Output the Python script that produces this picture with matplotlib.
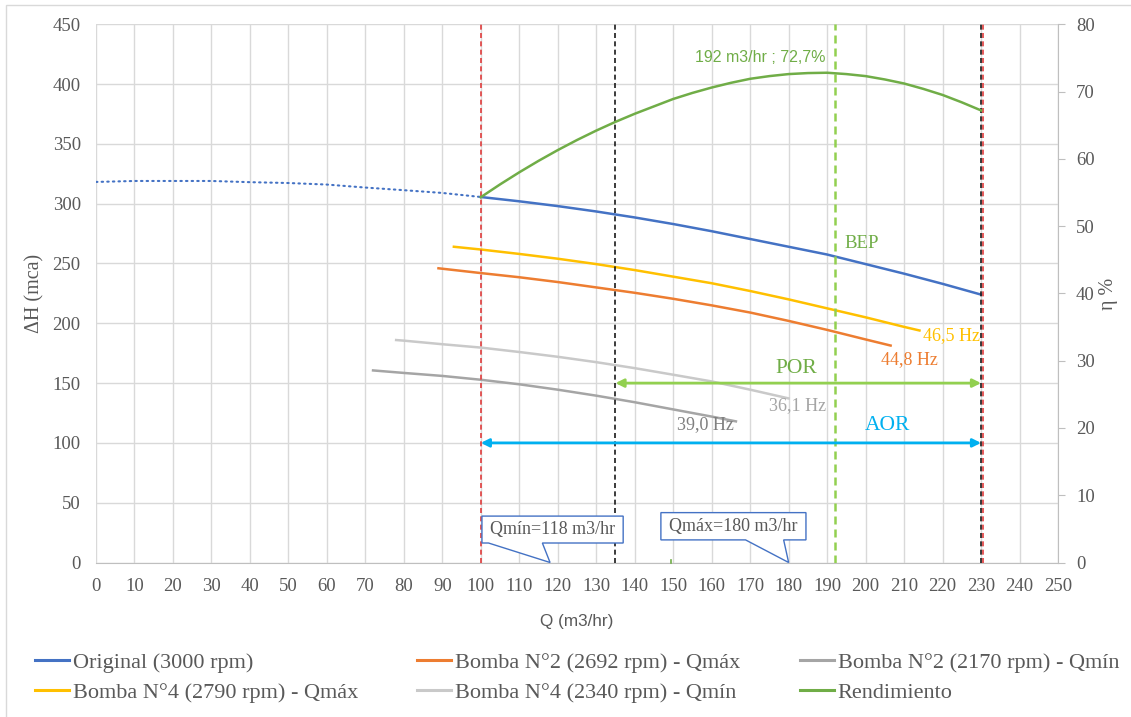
import matplotlib
matplotlib.use('Agg')
import matplotlib.pyplot as plt
from matplotlib.patches import Polygon, Rectangle

SERIF = ['Liberation Serif', 'DejaVu Serif']
NARROW = ['Liberation Sans Narrow', 'Liberation Sans', 'DejaVu Sans']
plt.rcParams['font.family'] = SERIF

# ---------------- data ----------------
q_orig_ext = [0, 10, 20, 30, 40, 50, 60, 70, 80, 90, 100]
h_orig_ext = [318.2, 319, 319, 319, 318, 317.3, 316, 313.5, 311.3, 309, 305.6]

q_orig = [100, 110, 120, 130, 140, 150, 160, 170, 180, 190, 200, 210, 220, 230]
h_orig = [305.6, 302, 298, 293.5, 288.5, 283, 277, 270.5, 264, 257.5, 249.5, 241.5, 233, 224]

q_b2_max = [89, 100, 110, 120, 130, 140, 150, 160, 170, 180, 190, 200, 206.5]
h_b2_max = [246, 242, 238.5, 234.5, 230, 225.5, 220.5, 215, 209, 202, 194.5, 186.5, 181.4]

q_b4_max = [93, 100, 110, 120, 130, 140, 150, 160, 170, 180, 190, 200, 210, 214]
h_b4_max = [264, 261.7, 258, 254, 249.5, 244.5, 239, 233.5, 227, 220, 212.5, 205, 197, 194]

q_b2_min = [72, 80, 90, 100, 110, 120, 130, 140, 150, 160, 166.3]
h_b2_min = [160.6, 158.5, 156, 152.8, 149, 144.5, 139.5, 134, 128, 122, 118]

q_b4_min = [78, 80, 90, 100, 110, 120, 130, 140, 150, 160, 170, 180]
h_b4_min = [186, 185.5, 182.5, 179.7, 176, 172, 167.5, 162.5, 157, 151.4, 144.5, 137.2]

q_eff = [100, 105, 110, 115, 120, 125, 130, 135, 140, 145, 150, 155, 160, 165, 170,
         175, 180, 185, 190, 195, 200, 205, 210, 215, 220, 225, 230]
eff = [54.3, 56.2, 58.0, 59.7, 61.3, 62.8, 64.2, 65.5, 66.7, 67.8, 68.9, 69.8, 70.6, 71.3, 71.9,
       72.3, 72.6, 72.75, 72.8, 72.6, 72.3, 71.8, 71.2, 70.4, 69.5, 68.4, 67.2]

labels = ['Original (3000 rpm)', 'Bomba N°2 (2692 rpm) - Qmáx', 'Bomba N°2 (2170 rpm) - Qmín',
          'Bomba N°4 (2790 rpm) - Qmáx', 'Bomba N°4 (2340 rpm) - Qmín', 'Rendimiento']

q_aor_min, q_aor_max = 100, 230
q_por_min, q_por_max = 135, 230
q_bep, eff_bep = 192, 72.7
q_min, q_max = 118, 180
h_por_arrow, h_aor_arrow = 150, 100

x_ticks = list(range(0, 251, 10))
y_ticks = list(range(0, 451, 50))
y2_ticks = list(range(0, 81, 10))

# ---------------- colours ----------------
C_BLUE = '#4472C4'
C_ORANGE = '#ED7D31'
C_YELLOW = '#FFC000'
C_GRAY_D = '#A5A5A5'
C_GRAY_L = '#C9C9C9'
C_GREEN = '#70AD47'
C_LIME = '#92D050'
C_CYAN = '#00B0F0'
C_RED = '#E03C3C'
C_TXT = '#595959'
C_GRID = '#D9D9D9'

W, H = 1131, 717
fig = plt.figure(figsize=(W / 100, H / 100), dpi=100)
fig.patches.append(Rectangle((6 / W, -0.01), 1.1, 1 - 5 / H + 0.01, transform=fig.transFigure,
                             fill=False, ec='#D9D9D9', lw=1))

x0p, x1p, y0p, y1p = 96, 1058, 562.5, 24.3
ax = fig.add_axes([x0p / W, 1 - y0p / H, (x1p - x0p) / W, (y0p - y1p) / H])
ax2 = ax.twinx()

ax.set_xlim(0, 250)
ax.set_ylim(0, 450)
ax2.set_ylim(0, 80)
ax.set_xticks(x_ticks)
ax.set_yticks(y_ticks)
ax2.set_yticks(y2_ticks)
ax.grid(True, color=C_GRID, lw=1)
ax.set_axisbelow(True)

for s in ['top', 'left', 'right']:
    ax.spines[s].set_visible(False)
ax.spines['bottom'].set_color('#BFBFBF')
for s in ['top', 'left', 'bottom']:
    ax2.spines[s].set_visible(False)
ax2.spines['right'].set_color('#BFBFBF')

ax.tick_params(axis='both', length=0, labelsize=13.5, labelcolor=C_TXT)
ax.tick_params(axis='x', pad=11)
ax.tick_params(axis='y', pad=11)
ax2.tick_params(axis='y', length=5, color='#BFBFBF', labelsize=13.5, labelcolor=C_TXT, pad=8)

ax.set_xlabel('Q (m3/hr)', family=NARROW, fontsize=12.3, color=C_TXT, labelpad=14)
ax.set_ylabel('ΔH (mca)', fontsize=14.5, color=C_TXT, labelpad=6)
ax2.set_ylabel('η %', fontsize=14.5, color=C_TXT, labelpad=3)

# ---------------- curves ----------------
ax.plot(q_orig_ext, h_orig_ext, color=C_BLUE, lw=1.5, linestyle=(0, (0.7, 2.0)),
        dash_capstyle='round', zorder=3)
l_orig, = ax.plot(q_orig, h_orig, color=C_BLUE, lw=1.8, zorder=3, label=labels[0])
l_b2max, = ax.plot(q_b2_max, h_b2_max, color=C_ORANGE, lw=1.8, zorder=3, label=labels[1])
l_b2min, = ax.plot(q_b2_min, h_b2_min, color=C_GRAY_D, lw=1.8, zorder=3, label=labels[2])
l_b4max, = ax.plot(q_b4_max, h_b4_max, color=C_YELLOW, lw=1.8, zorder=3, label=labels[3])
l_b4min, = ax.plot(q_b4_min, h_b4_min, color=C_GRAY_L, lw=1.8, zorder=3, label=labels[4])
l_eff, = ax2.plot(q_eff, eff, color=C_GREEN, lw=1.8, zorder=3, label=labels[5])

# tiny green mark at the base
ax.plot([149.5, 149.5], [0, 2], color=C_GREEN, lw=1.2, zorder=3, clip_on=False)

# ---------------- vertical reference lines ----------------
ax.axvline(q_aor_min, color=C_RED, lw=1.2, dashes=(3, 2), zorder=4)
ax.axvline(q_por_min, color='#1A1A1A', lw=1.2, dashes=(3, 2), zorder=4)
ax.axvline(q_aor_max, color='#1A1A1A', lw=1.2, dashes=(3, 2), zorder=4)
ax.axvline(q_aor_max + 0.45, color=C_RED, lw=1.2, dashes=(3, 2), zorder=4)
ax.axvline(q_bep, color=C_LIME, lw=1.8, dashes=(3.2, 2.0), zorder=4)

# ---------------- arrows ----------------
ax.annotate('', xy=(q_por_max, h_por_arrow), xytext=(q_por_min, h_por_arrow),
            arrowprops=dict(arrowstyle='<|-|>', color=C_LIME, lw=2, mutation_scale=12,
                            shrinkA=0, shrinkB=0), zorder=5)
ax.annotate('', xy=(q_aor_max, h_aor_arrow), xytext=(q_aor_min, h_aor_arrow),
            arrowprops=dict(arrowstyle='<|-|>', color=C_CYAN, lw=2, mutation_scale=12,
                            shrinkA=0, shrinkB=0), zorder=5)

# ---------------- text labels ----------------
ax.text(182, 162.5, 'POR', color=C_GREEN, fontsize=15.5, ha='center', va='center')
ax.text(205.7, 114.4, 'AOR', color=C_CYAN, fontsize=15.5, ha='center', va='center')
ax.text(214.8, 189.4, '46,5 Hz', color=C_YELLOW, fontsize=13, ha='left', va='center')
ax.text(204, 170, '44,8 Hz', color=C_ORANGE, fontsize=13, ha='left', va='center')
ax.text(175, 131, '36,1 Hz', color=C_GRAY_D, fontsize=13, ha='left', va='center')
ax.text(151, 115, '39,0 Hz', color='#7F7F7F', fontsize=13, ha='left', va='center')
ax.text(194.4, 266.8, 'BEP', color=C_GREEN, fontsize=13.5, ha='left', va='center')
ax.text(172.5, 422, f'{q_bep} m3/hr ; {str(eff_bep).replace(".", ",")}%', color=C_GREEN,
        family=NARROW, fontsize=11.5, ha='center', va='center')


# ---------------- callouts ----------------
def callout(bx0, bx1, by0, by1, w0, w1, tip, text):
    verts = [(bx0, by1), (bx1, by1), (bx1, by0), (w1, by0), (tip, 0), (w0, by0), (bx0, by0)]
    ax.add_patch(Polygon(verts, closed=True, fc='white', ec=C_BLUE, lw=1, zorder=6, clip_on=False))
    ax.text((bx0 + bx1) / 2, (by0 + by1) / 2, text, color=C_TXT, fontsize=13,
            ha='center', va='center', zorder=7)


callout(100.3, 137, 16.3, 38.8, 102, 116, q_min, f'Qmín={q_min} m3/hr')
callout(146.8, 184.5, 18.9, 41.7, 168.8, 178.7, q_max, f'Qmáx={q_max} m3/hr')

# ---------------- legend ----------------
cols = [[l_orig, l_b4max], [l_b2max, l_b4min], [l_b2min, l_eff]]
col_x = [35, 417, 800]
for handles, xpx in zip(cols, col_x):
    lg = fig.legend(handles=handles, loc='upper left', bbox_to_anchor=(xpx / W, 1 - 652 / H),
                    frameon=False, fontsize=16, handlelength=1.55, handletextpad=0.15,
                    borderpad=0, borderaxespad=0, labelspacing=0.45)
    for t in lg.get_texts():
        t.set_color(C_TXT)
    for ln in lg.get_lines():
        ln.set_linewidth(2.2)

fig.savefig('out.png', dpi=100)
